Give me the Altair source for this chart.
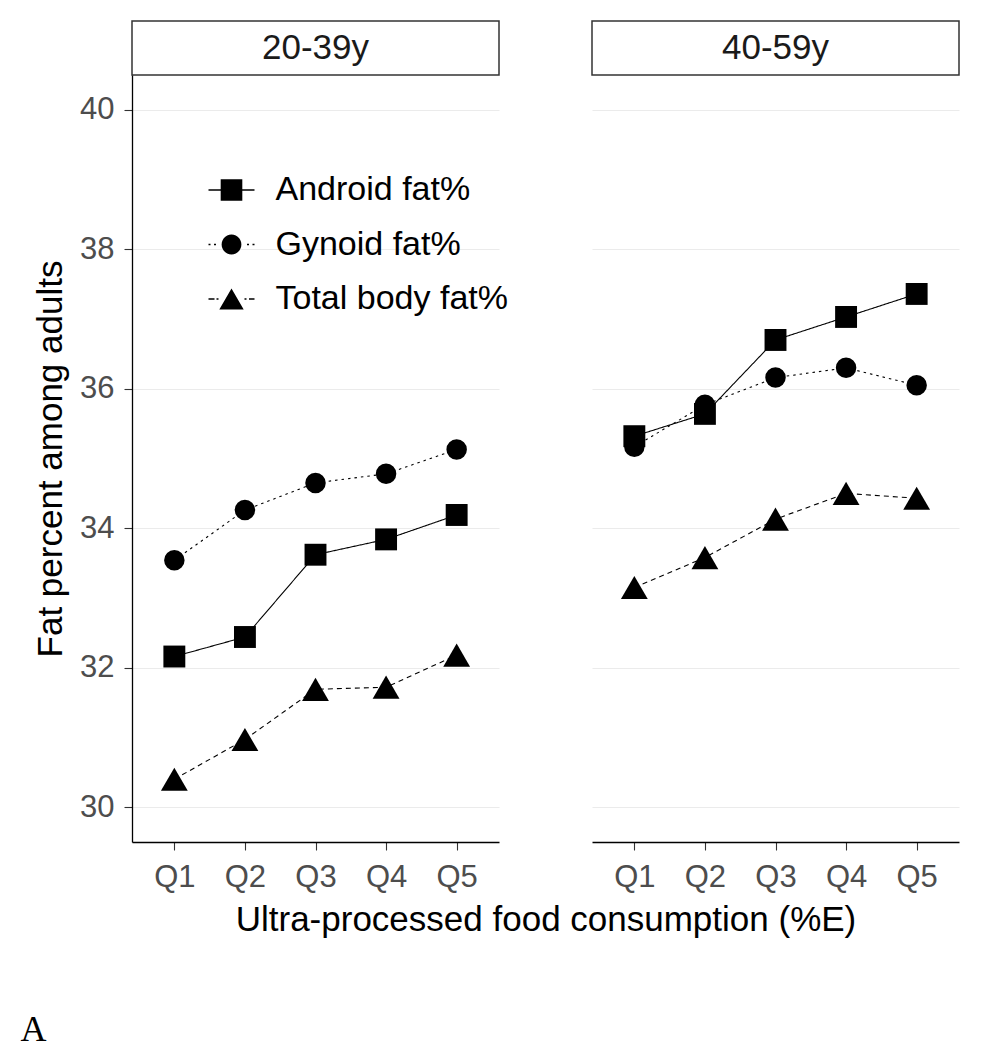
import math
import altair as alt
import pandas as pd

# ---------------- data ----------------
quintiles = ["Q1", "Q2", "Q3", "Q4", "Q5"]
age_groups = ["20-39y", "40-59y"]
series_names = ["Android fat%", "Gynoid fat%", "Total body fat%"]
y_ticks = [30, 32, 34, 36, 38, 40]

android_20_39 = [32.16, 32.44, 33.62, 33.84, 34.19]
gynoid_20_39 = [33.54, 34.26, 34.65, 34.78, 35.13]
total_20_39 = [30.40, 30.97, 31.69, 31.72, 32.18]

android_40_59 = [35.32, 35.64, 36.70, 37.03, 37.36]
gynoid_40_59 = [35.17, 35.77, 36.16, 36.30, 36.05]
total_40_59 = [33.15, 33.58, 34.13, 34.50, 34.43]

values = {
    "20-39y": [android_20_39, gynoid_20_39, total_20_39],
    "40-59y": [android_40_59, gynoid_40_59, total_40_59],
}
rows = []
for ag in age_groups:
    for s, vals in zip(series_names, values[ag]):
        for q, v in zip(quintiles, vals):
            rows.append({"age": ag, "series": s, "quintile": q, "fat": v})
df = pd.DataFrame(rows)

# ---------------- style ----------------
FONT = "Liberation Sans"
W, H, STRIP_H = 367, 767, 54
GAP = 93

point_shapes = ["square", "circle", "triangle-up"]
point_sizes = [480, 420, 720]
dashes = [[1, 0], [2.5, 4], [5, 4]]


def seg(a, b, h=0.028):
    return f"M{a:.3f},{-h}H{b:.3f}V{h}H{a:.3f}Z"


def circle_path(r, n=28):
    pts = [(r * math.cos(2 * math.pi * i / n), r * math.sin(2 * math.pi * i / n)) for i in range(n)]
    return "M" + "L".join(f"{x:.3f},{y:.3f}" for x, y in pts) + "Z"


u = 1 / 23.0
legend_paths = [
    seg(-1, 1) + "M-0.47,-0.47H0.47V0.47H-0.47Z",
    seg(-1, -21 * u) + seg(-17.5 * u, -15.5 * u)
    + circle_path(0.43)
    + seg(15.5 * u, 17.5 * u) + seg(21 * u, 1),
    seg(-1, -17 * u) + seg(-15 * u, -13 * u)
    + "M0,-0.46L0.53,0.46L-0.53,0.46Z"
    + seg(13 * u, 15 * u) + seg(17.5 * u, 1),
]

y_scale = alt.Scale(domain=[29.5, 40.5], nice=False, zero=False)
x_scale = alt.Scale(domain=quintiles, padding=0.6)


def panel(ag, first):
    base = alt.Chart(df).transform_filter(alt.datum.age == ag)
    if first:
        x_axis = alt.Axis(title="Ultra-processed food consumption (%E)", titleX=413.5,
                          titleAlign="center", labelAngle=0, grid=False,
                          labelPadding=12, titlePadding=10)
        y_axis = alt.Axis(values=y_ticks, title="Fat percent among adults", grid=True,
                          labelPadding=10, titlePadding=11)
    else:
        x_axis = alt.Axis(title=None, labelAngle=0, grid=False, labelPadding=12)
        y_axis = alt.Axis(values=y_ticks, title=None, grid=True, labels=False,
                          ticks=False, domain=False)
    x = alt.X("quintile:O", scale=x_scale, axis=x_axis)
    y = alt.Y("fat:Q", scale=y_scale, axis=y_axis)

    layers = []
    for s, dash in zip(series_names, dashes):
        layers.append(
            base.transform_filter(alt.datum.series == s)
            .mark_line(color="black", strokeWidth=1.1, strokeDash=dash)
            .encode(x=x, y=y)
        )
    if first:
        # tiny carrier marks (hidden under the markers) that only generate the legend
        layers.append(
            base.mark_point(filled=True, color="black", opacity=1, size=1)
            .encode(
                x=x, y=y,
                shape=alt.Shape(
                    "series:N",
                    scale=alt.Scale(domain=series_names, range=legend_paths),
                    legend=alt.Legend(
                        title=None, orient="none", legendX=76.5, legendY=146,
                        symbolSize=2116, labelOffset=21, rowPadding=14.5, labelLimit=500,
                    ),
                ),
            )
        )
    for s, shp, sz in zip(series_names, point_shapes, point_sizes):
        layers.append(
            base.transform_filter(alt.datum.series == s)
            .mark_point(shape=shp, size=sz, filled=True, color="black", opacity=1, strokeWidth=0)
            .encode(x=x, y=y)
        )
    plot = alt.layer(*layers).properties(width=W, height=H)

    strip = (
        alt.Chart(pd.DataFrame({"age": [ag]}))
        .mark_text(font=FONT, fontSize=35, color="#1A1A1A")
        .encode(text="age:N")
        .properties(width=W, height=STRIP_H,
                    view=alt.ViewBackground(stroke="#333333", strokeWidth=1.5, fill="white"))
    )
    return strip, plot


s1, p1 = panel(age_groups[0], True)
s2, p2 = panel(age_groups[1], False)

chart = (
    alt.concat(s1, s2, p1, p2, columns=2, spacing={"row": 0, "column": GAP}, bounds="flush")
    .properties(
        title=alt.TitleParams("A", orient="bottom", anchor="start", frame="group",
                              dx=-111.5, offset=76, font="Liberation Serif",
                              fontSize=36, fontWeight="normal", color="black"),
        padding={"top": 12, "left": 12, "right": 5, "bottom": 5},
        background="white",
    )
    .configure_view(strokeWidth=0)
    .configure_legend(
        labelFont=FONT, labelFontSize=34, labelColor="black", padding=0,
        symbolFillColor="black", symbolStrokeWidth=0, symbolOpacity=1,
    )
    .configure_axis(
        labelFont=FONT, titleFont=FONT, labelColor="#4D4D4D", titleColor="black",
        labelFontSize=31, titleFontSize=35, titleFontWeight="normal",
        tickColor="#333333", tickSize=8, tickWidth=1.1,
        domainColor="black", domainWidth=1.3,
        gridColor="#EBEBEB", gridWidth=1.1,
    )
)

chart.save("out.html", embed_options={"renderer": "svg", "actions": False})
